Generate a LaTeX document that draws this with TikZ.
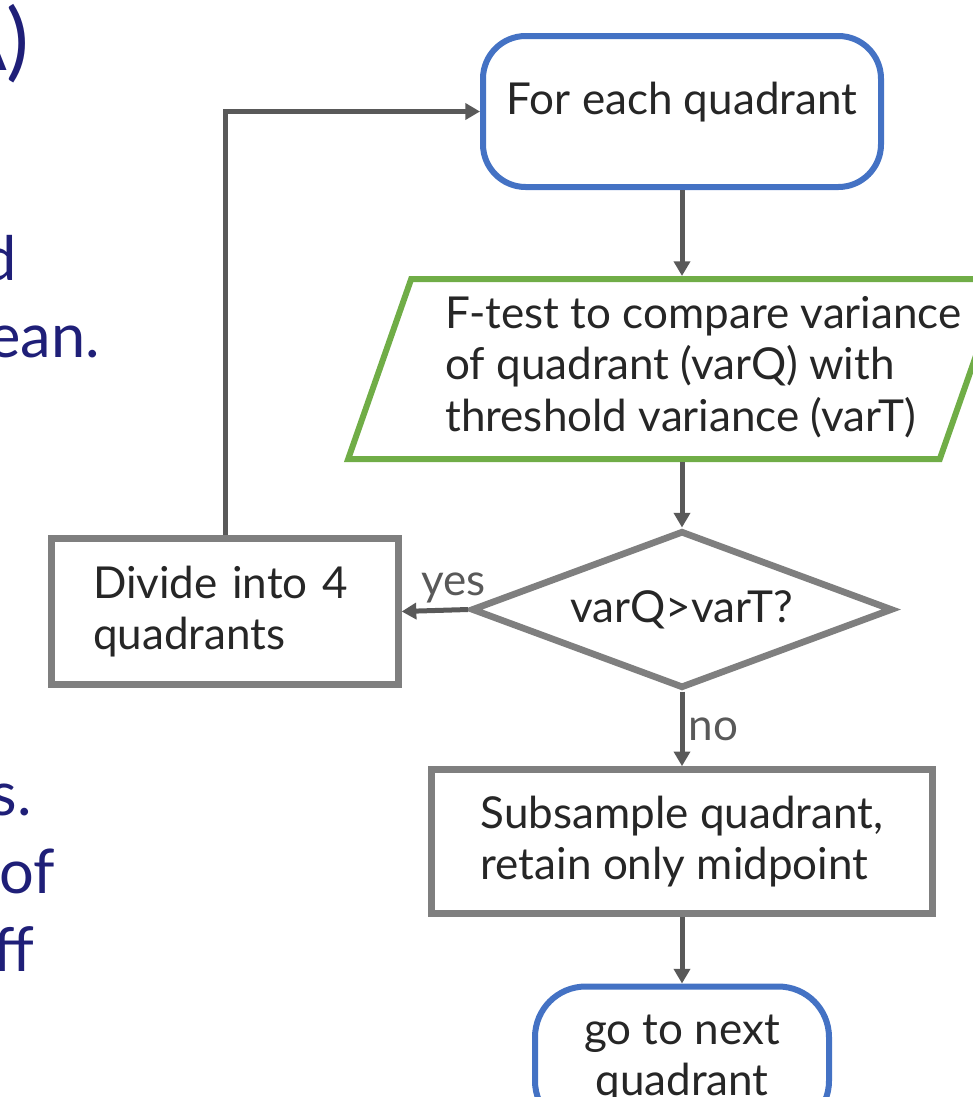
\documentclass[tikz,border=0pt]{standalone}
\usepackage{fontspec}
\setmainfont{Lato}
\usepackage{xcolor}
\usepackage{tikz}
\usetikzlibrary{arrows.meta,positioning,shapes.geometric}
\definecolor{flowBlue}{HTML}{4472C4}
\definecolor{flowGreen}{HTML}{70AD47}
\definecolor{flowGray}{HTML}{7F7F7F}
\definecolor{arrowGray}{HTML}{595959}
\definecolor{inkDark}{HTML}{262626}
\definecolor{titleNavy}{HTML}{1F1F78}

\begin{document}
\begin{tikzpicture}[
    x=0.75pt,y=-0.75pt,
    >={Triangle[length=11pt,width=12pt]},
    every node/.style={font=\fontsize{33}{38.5}\selectfont,text=inkDark},
    terminal/.style={rectangle,draw=flowBlue,line width=4.5pt,
                     fill=white,align=center},
    io/.style={trapezium,trapezium left angle=70.7,trapezium right angle=109.3,
               trapezium stretches body=true,draw=flowGreen,line width=4.5pt},
    decision/.style={diamond,shape aspect=2.7,draw=flowGray,line width=5pt,
                     inner sep=0pt},
    process/.style={rectangle,draw=flowGray,line width=5pt,align=left},
    arr/.style={->,line width=3.75pt,arrowGray},
    lab/.style={text=arrowGray},
    side/.style={font=\fontsize{46}{56}\selectfont,text=titleNavy,
                 inner sep=0pt,anchor=base east}
  ]
  \useasboundingbox (0,0) rectangle (973,1097);

  % cut-off text on the left
  \node[side,font=\fontsize{64}{70}\selectfont] (title) at (30,70) {A)};
  \node[side] (frag1) at (17,280)  {d};
  \node[side] (frag2) at (100,357) {ean.};
  \node[side] (frag3) at (32,815)  {s.};
  \node[side] (frag4) at (55,893)  {of};
  \node[side] (frag5) at (35,971)  {ff};

  % flowchart
  \node[terminal,rounded corners=32pt,minimum width=298.5pt,minimum height=113.25pt,
        text depth=20pt] (start) at (682,111.5) {For each quadrant};
  \node[io,inner xsep=0pt,inner ysep=67.5pt,minimum width=491pt]
    (ftest) at (675.5,369) {};
  \node[align=left,anchor=west,inner sep=0pt] (ftestlbl) at (445,367)
    {F-test to compare variance\\of quadrant (varQ) with\\threshold variance (varT)};
  \node[decision,minimum width=316pt,minimum height=118pt] (test) at (682,609.5)
    {varQ>varT?};
  \node[process,text width=198pt,inner xsep=31pt,minimum height=109.5pt]
    (divide) at (225,611.5) {Divide into 4\\quadrants};
  \node[process,minimum width=375.75pt,minimum height=108pt] (subsample) at (682,841.5)
    {Subsample quadrant,\\retain only midpoint};
  \node[terminal,rounded corners=38pt,minimum width=220.5pt,minimum height=108.75pt]
    (nextq) at (682,1059) {go to next\\quadrant};

  \draw[arr] (start.south) -- (start.south |- ftest.north);
  \draw[arr] (ftest.south -| test.north) -- (test.north);
  \draw[arr] (test.west) -- node[lab,pos=0.22,above]{yes} (divide.east);
  \draw[arr] (test.south) -- node[lab,right]{no} (subsample.north);
  \draw[arr] (subsample.south) -- (nextq.north);
  \draw[arr] (divide.north) |- (start.west);
\end{tikzpicture}
\end{document}
